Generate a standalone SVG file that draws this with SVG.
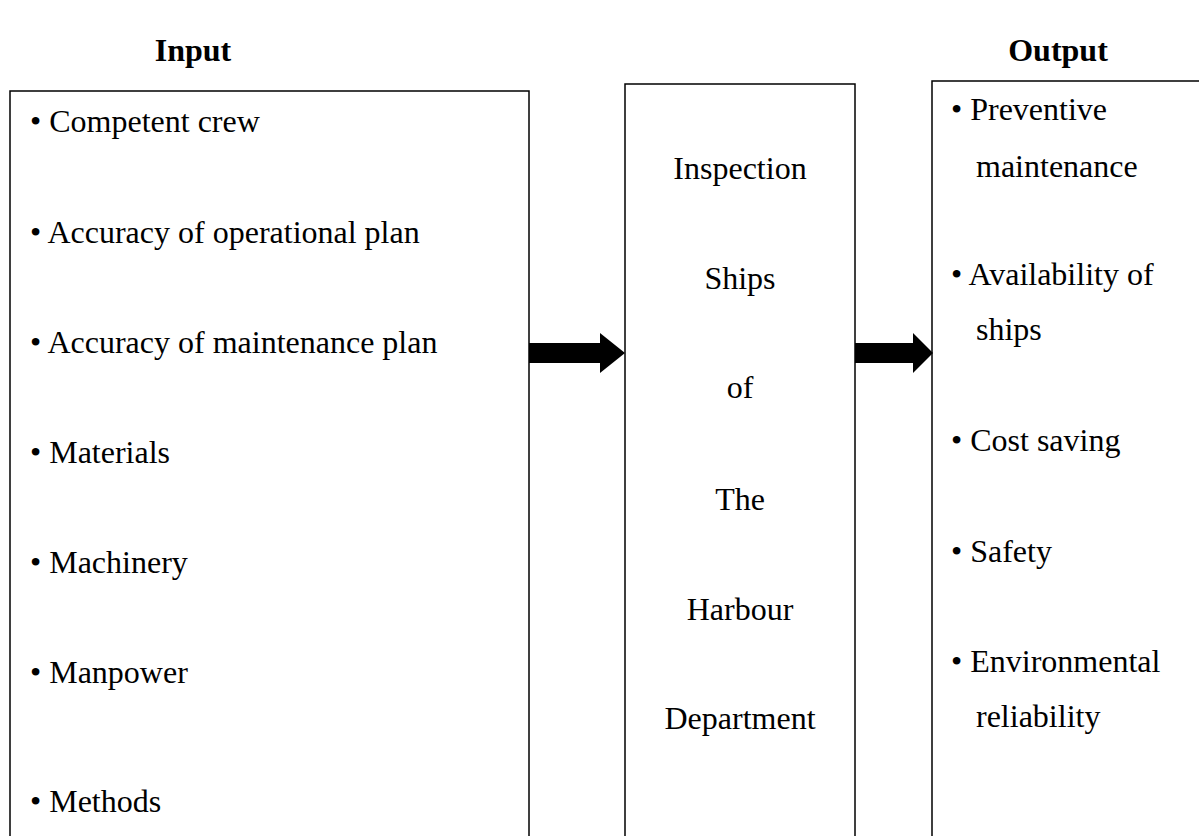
<svg xmlns="http://www.w3.org/2000/svg" width="1199" height="836" viewBox="0 0 1199 836">
  <style>
    .box { fill: #ffffff; stroke: #000000; stroke-width: 1.5; }
    .txt { font-family: "Liberation Serif", "Times New Roman", serif; font-size: 32px; fill: #000000; }
    .mid { text-anchor: middle; }
    .head { font-family: "Liberation Serif", "Times New Roman", serif; font-size: 32px; font-weight: bold; fill: #000000; text-anchor: middle; }
    .arrow { fill: #000000; stroke: none; }
  </style>
  <rect width="1199" height="836" fill="#ffffff"/>

  <!-- column headings -->
  <text class="head" x="193" y="61">Input</text>
  <text class="head" x="1058" y="61">Output</text>

  <!-- input list -->
  <g id="input">
    <rect class="box" x="10" y="91" width="519" height="780"/>
    <text class="txt" x="30" y="132">• Competent crew</text>
    <text class="txt" x="30" y="243">• Accuracy of operational plan</text>
    <text class="txt" x="30" y="353">• Accuracy of maintenance plan</text>
    <text class="txt" x="30" y="463">• Materials</text>
    <text class="txt" x="30" y="573">• Machinery</text>
    <text class="txt" x="30" y="683">• Manpower</text>
    <text class="txt" x="30" y="812">• Methods</text>
  </g>

  <!-- process -->
  <g id="process">
    <rect class="box" x="625" y="84" width="230" height="790"/>
    <text class="txt mid" x="740" y="179">Inspection</text>
    <text class="txt mid" x="740" y="289">Ships</text>
    <text class="txt mid" x="740" y="398">of</text>
    <text class="txt mid" x="740" y="510">The</text>
    <text class="txt mid" x="740" y="620">Harbour</text>
    <text class="txt mid" x="740" y="729">Department</text>
  </g>

  <!-- output list -->
  <g id="output">
    <rect class="box" x="932" y="81" width="320" height="790"/>
    <text class="txt" x="951" y="120">• Preventive</text>
    <text class="txt" x="976" y="177">maintenance</text>
    <text class="txt" x="951" y="285">• Availability of</text>
    <text class="txt" x="976" y="340">ships</text>
    <text class="txt" x="951" y="451">• Cost saving</text>
    <text class="txt" x="951" y="562">• Safety</text>
    <text class="txt" x="951" y="672">• Environmental</text>
    <text class="txt" x="976" y="727">reliability</text>
  </g>

  <!-- connectors -->
  <g id="connectors">
    <polygon class="arrow" points="529,343 600,343 600,333 625,353 600,373 600,363 529,363"/>
    <polygon class="arrow" points="855,343 913,343 913,333 933,353 913,373 913,363 855,363"/>
  </g>
</svg>
